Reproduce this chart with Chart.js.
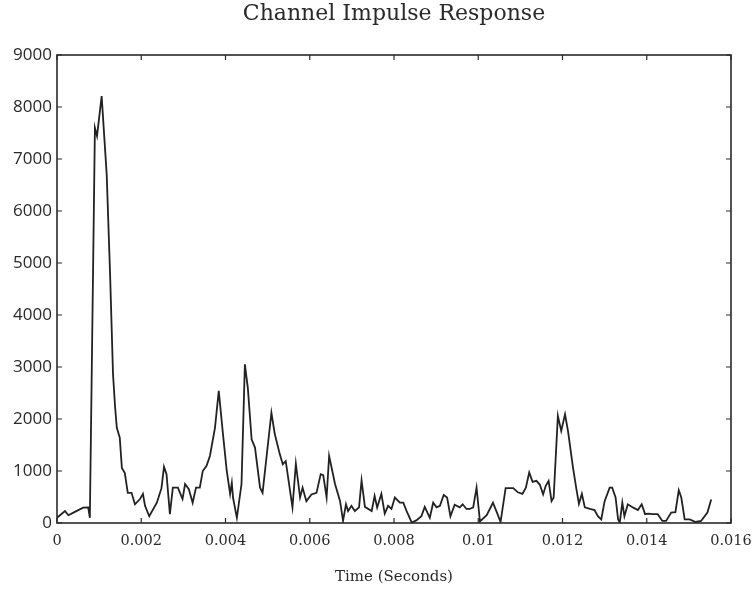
<!DOCTYPE html>
<html>
<head>
<meta charset="utf-8">
<script src="https://cdn.jsdelivr.net/npm/chart.js@4/dist/chart.umd.min.js"></script>
<style>
  html, body { margin: 0; padding: 0; background: #ffffff; }
  #wrap { width: 755px; height: 595px; }
</style>
</head>
<body>
<div id="wrap"><canvas id="c" width="755" height="595"></canvas></div>
<script>
const chartTitle = 'Channel Impulse Response';
const xAxisTitle = 'Time (Seconds)';
const xTickLabels = ['0', '0.002', '0.004', '0.006', '0.008', '0.01', '0.012', '0.014', '0.016'];
const yTickLabels = ['0', '1000', '2000', '3000', '4000', '5000', '6000', '7000', '8000', '9000'];

const timeSec = [
  0.00000, 0.00019, 0.00027, 0.00039, 0.00062, 0.00074, 0.00078, 0.00090, 0.00095, 0.00106,
  0.00118, 0.00126, 0.00133, 0.00138, 0.00142, 0.00149, 0.00154, 0.00161, 0.00168, 0.00177,
  0.00185, 0.00197, 0.00204, 0.00209, 0.00219, 0.00237, 0.00248, 0.00254, 0.00260, 0.00268,
  0.00275, 0.00287, 0.00298, 0.00304, 0.00313, 0.00322, 0.00330, 0.00339, 0.00346, 0.00355,
  0.00363, 0.00375, 0.00384, 0.00394, 0.00403, 0.00411, 0.00415, 0.00418, 0.00427, 0.00438,
  0.00446, 0.00453, 0.00462, 0.00470, 0.00482, 0.00488, 0.00509, 0.00517, 0.00529, 0.00536,
  0.00543, 0.00559, 0.00567, 0.00577, 0.00583, 0.00592, 0.00604, 0.00616, 0.00626, 0.00632,
  0.00640, 0.00646, 0.00660, 0.00672, 0.00679, 0.00686, 0.00691, 0.00699, 0.00707, 0.00717,
  0.00723, 0.00731, 0.00747, 0.00754, 0.00760, 0.00770, 0.00778, 0.00786, 0.00794, 0.00802,
  0.00814, 0.00822, 0.00830, 0.00842, 0.00853, 0.00865, 0.00873, 0.00885, 0.00893, 0.00901,
  0.00909, 0.00918, 0.00926, 0.00934, 0.00944, 0.00956, 0.00963, 0.00972, 0.00980, 0.00988,
  0.00996, 0.01004, 0.01020, 0.01035, 0.01043, 0.01053, 0.01065, 0.01083, 0.01094, 0.01105,
  0.01113, 0.01121, 0.01129, 0.01138, 0.01146, 0.01154, 0.01160, 0.01167, 0.01174, 0.01179,
  0.01189, 0.01197, 0.01206, 0.01213, 0.01225, 0.01233, 0.01239, 0.01246, 0.01253, 0.01265,
  0.01276, 0.01284, 0.01292, 0.01300, 0.01312, 0.01318, 0.01326, 0.01332, 0.01336, 0.01342,
  0.01347, 0.01355, 0.01367, 0.01379, 0.01388, 0.01396, 0.01403, 0.01414, 0.01426, 0.01437,
  0.01446, 0.01458, 0.01468, 0.01476, 0.01482, 0.01490, 0.01502, 0.01516, 0.01529, 0.01544,
  0.01553
];

const amplitude = [
  100, 230, 150, 200, 295, 300, 100, 7600, 7440, 8210,
  6700, 4790, 2860, 2220, 1830, 1640, 1060, 960, 580, 580,
  360, 460, 560, 330, 130, 390, 670, 1080, 940, 170,
  680, 680, 460, 750, 650, 390, 680, 680, 1000, 1100,
  1290, 1830, 2540, 1710, 1000, 560, 770, 480, 100, 750,
  3050, 2600, 1610, 1450, 680, 580, 2120, 1710, 1320, 1130,
  1190, 300, 1140, 490, 680, 420, 550, 580, 940, 920,
  490, 1290, 750, 420, 40, 360, 230, 330, 230, 300,
  820, 310, 230, 520, 300, 560, 180, 330, 270, 490,
  390, 390, 230, 10, 50, 130, 310, 100, 390, 300,
  330, 540, 490, 130, 350, 300, 360, 270, 270, 300,
  680, 30, 150, 390, 230, 20, 670, 670, 590, 560,
  680, 970, 790, 810, 740, 550, 710, 810, 420, 490,
  2060, 1770, 2090, 1770, 1060, 650, 370, 560, 300, 270,
  250, 130, 70, 420, 680, 680, 490, 70, 10, 390,
  130, 360, 300, 250, 360, 170, 180, 170, 170, 40,
  40, 200, 210, 630, 490, 70, 70, 20, 40, 200,
  450
];

const points = timeSec.map((t, i) => ({ x: t, y: amplitude[i] }));

const framePlugin = {
  id: 'frameTicks',
  afterDatasetsDraw(chart) {
    const { ctx, chartArea: { left, right, top, bottom }, scales: { x, y } } = chart;
    const len = 5;
    ctx.save();
    ctx.strokeStyle = '#2a2a2a';
    ctx.lineWidth = 1.6;
    ctx.strokeRect(left, top, right - left, bottom - top);
    ctx.lineWidth = 1.2;
    ctx.beginPath();
    x.ticks.forEach(t => {
      const px = x.getPixelForValue(t.value);
      ctx.moveTo(px, bottom); ctx.lineTo(px, bottom - len);
      ctx.moveTo(px, top); ctx.lineTo(px, top + len);
    });
    y.ticks.forEach(t => {
      const py = y.getPixelForValue(t.value);
      ctx.moveTo(left, py); ctx.lineTo(left + len, py);
      ctx.moveTo(right, py); ctx.lineTo(right - len, py);
    });
    ctx.stroke();
    ctx.restore();
  }
};

new Chart(document.getElementById('c'), {
  type: 'scatter',
  data: {
    datasets: [{
      data: points,
      showLine: true,
      borderColor: '#222222',
      borderWidth: 1.8,
      pointRadius: 0,
      pointHoverRadius: 0,
      tension: 0,
      fill: false
    }]
  },
  options: {
    responsive: false,
    animation: false,
    events: [],
    layout: { padding: { left: 0, right: 24, top: 0, bottom: 0 } },
    plugins: {
      legend: { display: false },
      tooltip: { enabled: false },
      title: {
        display: true,
        text: chartTitle,
        fullSize: false,
        color: '#2a2a2a',
        font: { family: 'DejaVu Serif', size: 22, weight: 'normal' },
        padding: { top: 1, bottom: 27.6 }
      }
    },
    scales: {
      x: {
        type: 'linear',
        min: 0,
        max: 0.016,
        grid: { display: false, drawTicks: false },
        border: { display: false },
        ticks: {
          stepSize: 0.002,
          autoSkip: false,
          maxRotation: 0,
          padding: 10,
          color: '#2a2a2a',
          font: { family: 'DejaVu Serif', size: 14.5 },
          callback: (v, i) => xTickLabels[i]
        },
        title: {
          display: true,
          text: xAxisTitle,
          color: '#2a2a2a',
          font: { family: 'DejaVu Serif', size: 15 },
          padding: { top: 0, bottom: 9 }
        },
        afterFit: s => { s.height = 72; s.paddingLeft = 0; s.paddingRight = 0; }
      },
      y: {
        type: 'linear',
        min: 0,
        max: 9000,
        grid: { display: false, drawTicks: false },
        border: { display: false },
        ticks: {
          stepSize: 1000,
          padding: 5,
          color: '#2a2a2a',
          font: { family: 'Open Sans', size: 17 },
          callback: (v, i) => yTickLabels[i]
        },
        afterFit: s => { s.width = 57; s.paddingTop = 0; s.paddingBottom = 0; }
      }
    }
  },
  plugins: [framePlugin]
});
</script>
</body>
</html>
